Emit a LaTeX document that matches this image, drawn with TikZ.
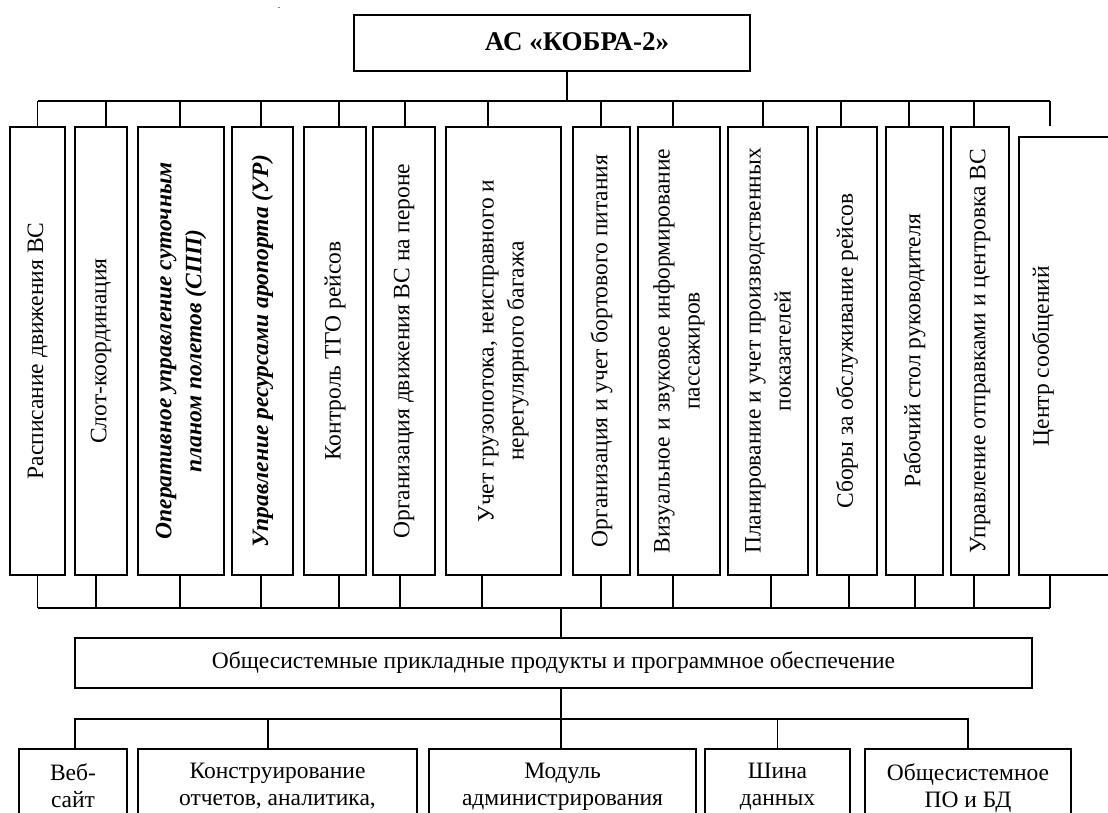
\documentclass[tikz,border=0pt]{standalone}
\usepackage{fontspec}
\setmainfont{Liberation Serif}
\usetikzlibrary{positioning}

\begin{document}
\begin{tikzpicture}[x=1pt, y=1pt,
    box/.style={draw, line width=1.4pt, inner sep=0pt},
    colbox/.style={box, minimum height=448pt},
    coltext/.style={rotate=90, align=center, inner sep=0pt, font=\fontsize{23.5}{30}\selectfont},
    lowbox/.style={box, minimum height=120pt},
    lowtext/.style={anchor=north, align=center, inner sep=0pt, font=\fontsize{23.5}{27}\selectfont},
    link/.style={line width=1.1pt}]
\clip (0,0) rectangle (1108,812);
\node[anchor=base, inner sep=0pt, font=\fontsize{10}{10}\selectfont] (dot) at (279,803) {.};
% top
\node[box, minimum width=396pt, minimum height=56pt] (top) at (552,769) {};
\node[font=\bfseries\fontsize{27}{30}\selectfont, inner sep=0pt] (toptext) at (577,770) {АС «КОБРА-2»};
\coordinate (topbus) at (0,711);
\coordinate (botbus) at (0,204);
\coordinate (lowbus) at (0,93);
% columns
\node[colbox, minimum width=55pt] (c1) at (37.5,461) {};
\node[colbox, minimum width=52pt] (c2) at (101,461) {};
\node[colbox, minimum width=86pt] (c3) at (181,461) {};
\node[colbox, minimum width=61pt] (c4) at (262.5,461) {};
\node[colbox, minimum width=62pt] (c5) at (335,461) {};
\node[colbox, minimum width=62pt] (c6) at (404,461) {};
\node[colbox, minimum width=115pt] (c7) at (503.5,461) {};
\node[colbox, minimum width=57pt] (c8) at (601.5,461) {};
\node[colbox, minimum width=82pt] (c9) at (679,461) {};
\node[colbox, minimum width=80pt] (c10) at (768,461) {};
\node[colbox, minimum width=60pt] (c11) at (847,461) {};
\node[colbox, minimum width=57pt] (c12) at (914.5,461) {};
\node[colbox, minimum width=58pt] (c13) at (980,461) {};
\node[box, minimum width=111pt, minimum height=438pt] (c14) at (1074.5,456) {};
\node[coltext] at (c1) {Расписание движения ВС};
\node[coltext] at (c2) {Слот-координация};
\node[coltext, font=\bfseries\itshape\fontsize{23.5}{30}\selectfont] at (c3) {Оперативное управление суточным\\планом полетов (СПП)};
\node[coltext, font=\bfseries\itshape\fontsize{23.5}{30}\selectfont] at (c4) {Управление ресурсами аропорта (УР)};
\node[coltext] at (c5) {Контроль ТГО рейсов};
\node[coltext] at (c6) {Организация движения ВС на пероне};
\node[coltext] at (c7) {Учет грузопотока, неисправного и\\нерегулярного багажа};
\node[coltext] at (c8) {Организация и учет бортового питания};
\node[coltext] at (c9) {Визуальное и звуковое информирование\\пассажиров};
\node[coltext] at (c10) {Планирование и учет производственных\\показателей};
\node[coltext] at (c11) {Сборы за обслуживание рейсов};
\node[coltext] at (c12) {Рабочий стол руководителя};
\node[coltext] at (c13) {Управление отправками и центровка ВС};
\node[coltext] at ([xshift=-31.5pt]c14.center) {Центр сообщений};
% buses
\draw[link] ([xshift=15pt]top.south) -- ([xshift=15pt]top.south |- topbus);
\draw[link] (c1.north |- topbus) -- ([xshift=-24.5pt]c14.north |- topbus);
\draw[link] (c1.south |- botbus) -- ([xshift=-24.5pt]c14.south |- botbus);
\foreach \n/\db in {1/0, 2/-5, 3/-1, 4/-1.5, 5/4, 6/-4, 7/-21.5,
    8/-0.5, 9/-6, 10/3, 11/2, 12/0.5, 13/-6, 14/-24.5} {
  \draw[link] ([xshift=\db pt]c\n.south) -- ([xshift=\db pt]c\n.south |- botbus);
}
\foreach \n/\dt in {1/0, 2/5, 3/-1, 4/-1.5, 5/4, 6/1, 7/-15.5, 8/-0.5, 9/-6, 10/-5, 11/-6, 12/-5.5, 13/-6} {
  \draw[link] ([xshift=\dt pt]c\n.north) -- ([xshift=\dt pt]c\n.north |- topbus);
}
\draw[link] ([xshift=-24.5pt]c14.north |- topbus) -- ([xshift=-24.5pt]c14.north |- c13.north);
% common layer
\node[box, minimum width=957pt, minimum height=50pt, font=\fontsize{23.5}{27}\selectfont] (mid) at (553.5,149) {Общесистемные прикладные продукты и программное обеспечение};
\draw[link] ([xshift=7.5pt]mid.north) -- ([xshift=7.5pt]mid.north |- botbus);
% lower row
\node[lowbox, minimum width=108pt] (b1) at (73,3) {};
\node[lowbox, minimum width=279pt] (b2) at (277.5,3) {};
\node[lowbox, minimum width=267pt] (b3) at (562.5,3) {};
\node[lowbox, minimum width=145pt] (b4) at (777.5,3) {};
\node[lowbox, minimum width=206pt] (b5) at (968,3) {};
\node[lowtext] at ([yshift=-15pt]b1.north) {Веб-\\сайт};
\node[lowtext] at ([yshift=-15pt]b2.north) {Конструирование\\отчетов, аналитика,};
\node[lowtext] at ([yshift=-15pt]b3.north) {Модуль\\администрирования};
\node[lowtext] at ([yshift=-15pt]b4.north) {Шина\\данных};
\node[lowtext] at ([yshift=-15pt]b5.north) {Общесистемное\\ПО и БД};
\draw[link] ([xshift=7.5pt]mid.south) -- ([xshift=7.5pt]mid.south |- b3.north);
\draw[link] ([xshift=2pt]b1.north) |- (b5.north |- lowbus) -- (b5.north);
\draw[link] ([xshift=-9.5pt]b2.north) -- ([xshift=-9.5pt]b2.north |- lowbus);
\draw[link] (b4.north) -- (b4.north |- lowbus);
\end{tikzpicture}
\end{document}
